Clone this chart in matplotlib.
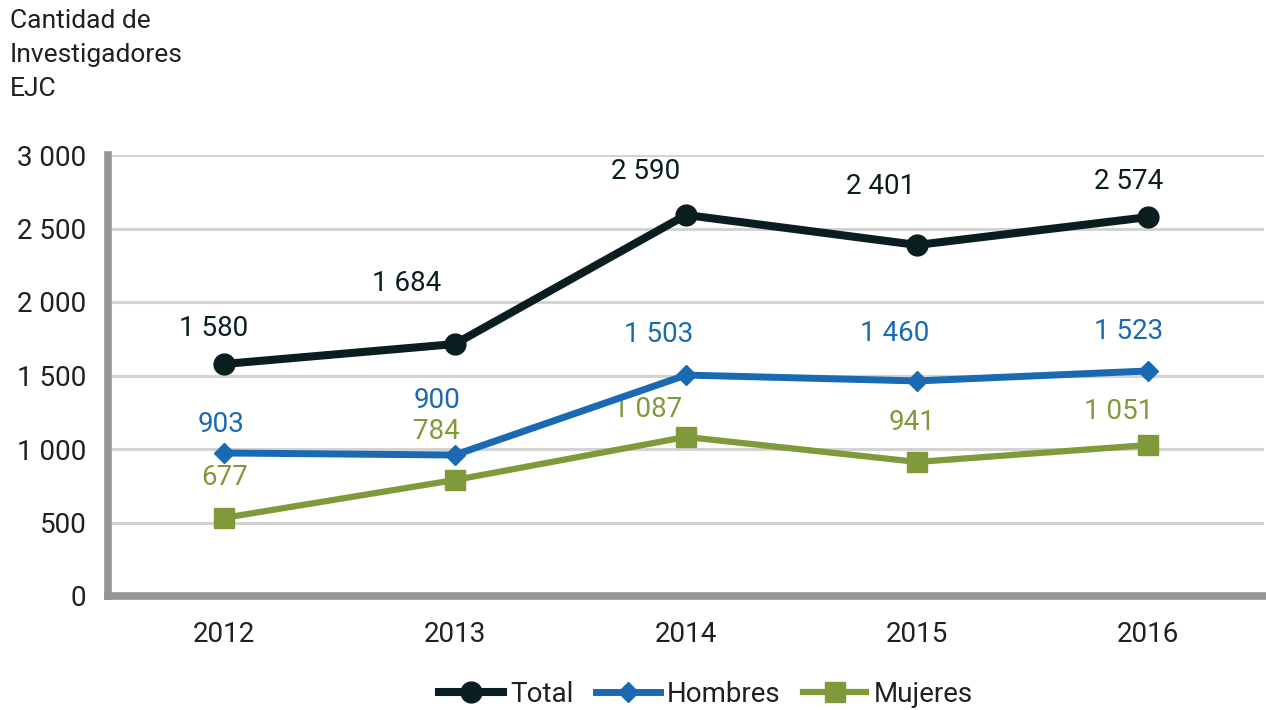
import matplotlib
matplotlib.use("Agg")
import matplotlib.pyplot as plt
from matplotlib.ticker import FuncFormatter

# ---- data ----
years = ["2012", "2013", "2014", "2015", "2016"]
total_vals = [1578, 1714, 2592, 2388, 2578]
hombres_vals = [973, 959, 1503, 1463, 1531]
mujeres_vals = [531, 789, 1082, 912, 1027]
total_labels = ["1 580", "1 684", "2 590", "2 401", "2 574"]
hombres_labels = ["903", "900", "1 503", "1 460", "1 523"]
mujeres_labels = ["677", "784", "1 087", "941", "1 051"]
yticks = [0, 500, 1000, 1500, 2000, 2500, 3000]
ylabel_text = "Cantidad de\nInvestigadores\nEJC"

# ---- label offsets (pixels) ----
total_off = [(-10, 36), (-48, 61), (-40, 43), (-37, 58), (-20, 36)]
hombres_off = [(-3, 28), (-18, 55), (-27, 41), (-23, 47), (-20, 39)]
mujeres_off = [(1, 40), (-18, 49), (-38, 27), (-5, 39), (-30, 34)]

plt.rcParams['font.family'] = ['Roboto', 'DejaVu Sans']

C_TOTAL = "#0b1e1f"
C_HOM = "#1a69b3"
C_MUJ = "#809a3b"
C_AX = "#939598"
C_GRID = "#d3d3d3"
C_TXT = "#231f20"
FS = 20

fig = plt.figure(figsize=(12.66, 7.10), dpi=100)
ax = fig.add_axes([108 / 1266, 1 - 596 / 710, (1264 - 108) / 1266, (596 - 155) / 710])

x = list(range(len(years)))
ax.plot(x, total_vals, color=C_TOTAL, lw=5.8, marker="o", ms=15, label="Total", zorder=5)
ax.plot(x, hombres_vals, color=C_HOM, lw=5.0, marker="D", ms=10, label="Hombres", zorder=4)
ax.plot(x, mujeres_vals, color=C_MUJ, lw=4.5, marker="s", ms=15, label="Mujeres", zorder=3)

for vals, labs, offs, col in [(total_vals, total_labels, total_off, C_TOTAL),
                              (hombres_vals, hombres_labels, hombres_off, C_HOM),
                              (mujeres_vals, mujeres_labels, mujeres_off, C_MUJ)]:
    for xi, v, lab, off in zip(x, vals, labs, offs):
        ax.annotate(lab, (xi, v), xytext=off, textcoords="offset pixels",
                    ha="center", va="center", fontsize=FS, color=col)

ax.set_xlim(-0.5, len(years) - 0.5)
ax.set_ylim(0, 3000)
ax.set_yticks(yticks)
ax.yaxis.set_major_formatter(FuncFormatter(lambda v, p: f"{int(v):,}".replace(",", " ")))
ax.set_xticks(x)
ax.set_xticklabels(years)
ax.tick_params(axis="both", length=0, labelsize=FS, labelcolor=C_TXT)
ax.tick_params(axis="y", pad=15.5)
ax.tick_params(axis="x", pad=18)

ax.grid(axis="y", color=C_GRID, lw=2.2)
ax.set_axisbelow(True)
for s in ["top", "right"]:
    ax.spines[s].set_visible(False)
for s in ["left", "bottom"]:
    ax.spines[s].set_color(C_AX)
    ax.spines[s].set_linewidth(5.5)
    ax.spines[s].set_capstyle("projecting")

fig.text(10 / 1266, 1 - 9 / 710, ylabel_text, ha="left", va="top",
         fontsize=19, color=C_TXT, linespacing=1.53)

leg = fig.legend(loc="center", bbox_to_anchor=(706 / 1266, 1 - 694 / 710), ncol=3,
                 frameon=False, fontsize=FS, handlelength=2.3, handletextpad=0.25,
                 columnspacing=0.8)
for t in leg.get_texts():
    t.set_color(C_TXT)

fig.savefig("out.png", dpi=100)
